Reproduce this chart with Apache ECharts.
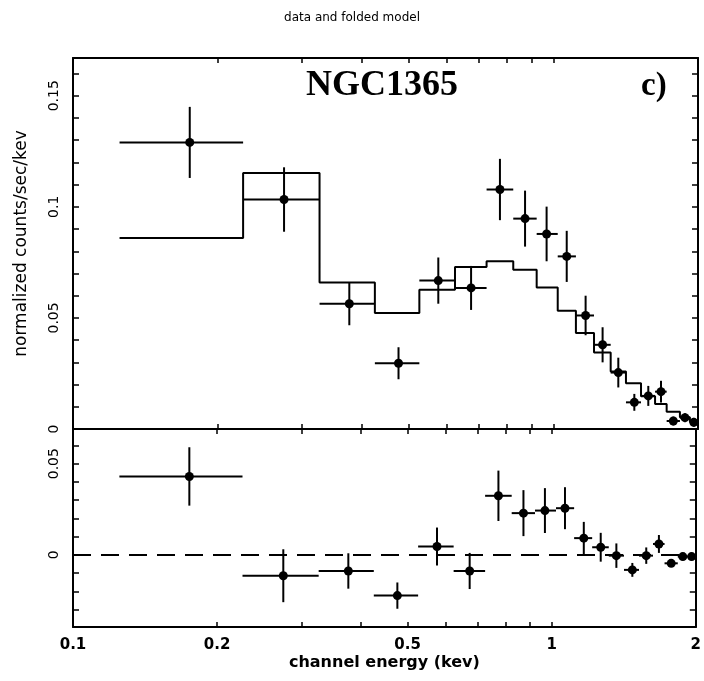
<!DOCTYPE html>
<html>
<head>
<meta charset="utf-8">
<script src="https://cdn.jsdelivr.net/npm/echarts@6/dist/echarts.min.js"></script>
<style>
  html, body { margin: 0; padding: 0; background: #fff; }
  #chart_id { width: 704px; height: 681px; }
</style>
</head>
<body>
<div id="chart_id"></div>
<script>
// channel bins (keV)
const binEdges = [0.125, 0.226, 0.326, 0.425, 0.526, 0.624, 0.726, 0.825, 0.923, 1.021,
  1.114, 1.215, 1.316, 1.416, 1.522, 1.628, 1.721, 1.834, 1.924, 2.0];
const binCenters = [0.175, 0.275, 0.376, 0.476, 0.576, 0.674, 0.774, 0.873, 0.968, 1.066,
  1.167, 1.266, 1.365, 1.474, 1.576, 1.675, 1.777, 1.879, 1.96];
// normalized counts/sec/kev
const counts = [0.129, 0.1033, 0.0564, 0.0296, 0.0668, 0.0635, 0.1078, 0.0947, 0.0878, 0.0777,
  0.0511, 0.0379, 0.0254, 0.012, 0.0149, 0.0168, 0.0036, 0.0051, 0.003];
const countErr = [0.016, 0.0145, 0.0097, 0.0072, 0.0104, 0.0099, 0.0138, 0.0126, 0.0123, 0.0115,
  0.0089, 0.0079, 0.0067, 0.0038, 0.0045, 0.0049, 0.002, 0.002, 0.002];
// folded model
const model = [0.086, 0.1152, 0.066, 0.0522, 0.0627, 0.0729, 0.0755, 0.0717, 0.0637, 0.0532,
  0.0432, 0.0344, 0.0259, 0.0206, 0.0147, 0.0113, 0.0078, 0.0053, 0.0033];
// residuals (data - model)
const resid = [0.043, -0.0114, -0.0088, -0.0223, 0.0046, -0.0088, 0.0324, 0.0229, 0.0243, 0.0256,
  0.0092, 0.0042, -0.0004, -0.0082, -0.0004, 0.006, -0.0046, -0.0009, -0.0009];

// ticks / labels
const xRange = [0.1, 2];
const xTicks = [0.1, 0.2, 0.3, 0.4, 0.5, 0.6, 0.7, 0.8, 0.9, 1, 2];
const xLabels = [0.1, 0.2, 0.5, 1, 2];
const yTopTicks = [0, 0.01, 0.02, 0.03, 0.04, 0.05, 0.06, 0.07, 0.08, 0.09, 0.1,
  0.11, 0.12, 0.13, 0.14, 0.15, 0.16];
const yTopLabels = [0, 0.05, 0.1, 0.15];
const yBotTicks = [-0.03, -0.02, -0.01, 0, 0.01, 0.02, 0.03, 0.04, 0.05, 0.06];
const yBotLabels = [0, 0.05];

const myChart = echarts.init(document.getElementById('chart_id'));

const black = '#000';
const FONT = 'DejaVu Sans';

function errRender(params, api) {
  const x = api.value(0), y = api.value(1), lo = api.value(2), hi = api.value(3), e = api.value(4);
  const pL = api.coord([lo, y]);
  const pR = api.coord([hi, y]);
  const pT = api.coord([x, y + e]);
  const pB = api.coord([x, y - e]);
  const c = api.coord([x, y]);
  const st = { stroke: black, lineWidth: 2 };
  return {
    type: 'group',
    children: [
      { type: 'line', shape: { x1: pL[0], y1: pL[1], x2: pR[0], y2: pR[1] }, style: st },
      { type: 'line', shape: { x1: pT[0], y1: pT[1], x2: pB[0], y2: pB[1] }, style: st },
      { type: 'circle', shape: { cx: c[0], cy: c[1], r: 4.5 }, style: { fill: black } },
    ],
  };
}

const dataPts = counts.map((v, i) => [binCenters[i], v, binEdges[i], binEdges[i + 1], countErr[i]]);
const residPts = resid.map((v, i) => [binCenters[i], v, binEdges[i], binEdges[i + 1], countErr[i]]);
const modelStep = binEdges.map((e, i) => [e, model[Math.min(i, model.length - 1)]]);
const zeroLine = xRange.map((x) => [x, 0]);

function xAxisCfg(grid, pos, withLabels) {
  return {
    type: 'log',
    logBase: 10,
    gridIndex: grid,
    position: pos,
    min: xRange[0],
    max: xRange[1],
    axisLine: { show: true, onZero: false, lineStyle: { color: black, width: 2 } },
    axisTick: { show: true, inside: true, length: 5, customValues: xTicks, lineStyle: { color: black, width: 1.5 } },
    axisLabel: withLabels ? {
      show: true,
      customValues: xLabels,
      margin: 11,
      color: black,
      fontFamily: FONT,
      fontWeight: 'bold',
      fontSize: 15,
      formatter: (v) => String(Number(Number(v).toPrecision(3))),
    } : { show: false },
    splitLine: { show: false },
    minorTick: { show: false },
  };
}

function yAxisCfg(grid, pos, min, max, ticks, labels) {
  return {
    type: 'value',
    gridIndex: grid,
    position: pos,
    min: min,
    max: max,
    axisLine: { show: true, onZero: false, lineStyle: { color: black, width: 2 } },
    axisTick: { show: true, inside: true, length: 6, customValues: ticks, lineStyle: { color: black, width: 1.5 } },
    axisLabel: labels ? {
      show: true,
      customValues: labels,
      rotate: 90,
      margin: 12,
      color: black,
      fontFamily: FONT,
      fontSize: 14,
    } : { show: false },
    splitLine: { show: false },
  };
}

const yTop = yAxisCfg(0, 'left', 0, 0.167, yTopTicks, yTopLabels);
yTop.name = 'normalized counts/sec/kev';
yTop.nameLocation = 'middle';
yTop.nameRotate = 90;
yTop.nameGap = 43;
yTop.nameTextStyle = { color: black, fontFamily: FONT, fontSize: 17 };

const xBot = xAxisCfg(1, 'bottom', true);
xBot.name = 'channel energy (kev)';
xBot.nameLocation = 'middle';
xBot.nameGap = 28;
xBot.nameTextStyle = { color: black, fontFamily: FONT, fontWeight: 'bold', fontSize: 16 };

const option = {
  backgroundColor: '#fff',
  animation: false,
  title: {
    text: 'data and folded model',
    left: 'center',
    top: 7,
    textStyle: { color: black, fontFamily: FONT, fontWeight: 'normal', fontSize: 12 },
  },
  grid: [
    { left: 73, top: 58, width: 625, height: 371 },
    { left: 73, top: 429, width: 625, height: 198 },
  ],
  xAxis: [
    xAxisCfg(0, 'bottom', false),
    xAxisCfg(0, 'top', false),
    xBot,
    xAxisCfg(1, 'top', false),
  ],
  yAxis: [
    yTop,
    yAxisCfg(0, 'right', 0, 0.167, yTopTicks, null),
    yAxisCfg(1, 'left', -0.0395, 0.069, yBotTicks, yBotLabels),
    yAxisCfg(1, 'right', -0.0395, 0.069, yBotTicks, null),
  ],
  graphic: [
    {
      type: 'text', left: 306, top: 68,
      style: { text: 'NGC1365', fill: black, font: 'bold 36px "Liberation Serif"' },
    },
    {
      type: 'text', left: 641, top: 70,
      style: { text: 'c)', fill: black, font: 'bold 33px "Liberation Serif"' },
    },
  ],
  series: [
    {
      name: 'model',
      type: 'line',
      xAxisIndex: 0,
      yAxisIndex: 0,
      step: 'end',
      data: modelStep,
      showSymbol: false,
      lineStyle: { color: black, width: 2 },
      z: 2,
    },
    {
      name: 'data',
      type: 'custom',
      xAxisIndex: 0,
      yAxisIndex: 0,
      renderItem: errRender,
      encode: { x: 0, y: 1 },
      data: dataPts,
      z: 3,
    },
    {
      name: 'zero',
      type: 'line',
      xAxisIndex: 2,
      yAxisIndex: 2,
      data: zeroLine,
      showSymbol: false,
      silent: true,
      lineStyle: { color: black, width: 2, type: [18, 10] },
      z: 2,
    },
    {
      name: 'residuals',
      type: 'custom',
      xAxisIndex: 2,
      yAxisIndex: 2,
      renderItem: errRender,
      encode: { x: 0, y: 1 },
      data: residPts,
      z: 3,
    },
  ],
};

myChart.setOption(option);
window.onresize = myChart.resize;
</script>
</body>
</html>
